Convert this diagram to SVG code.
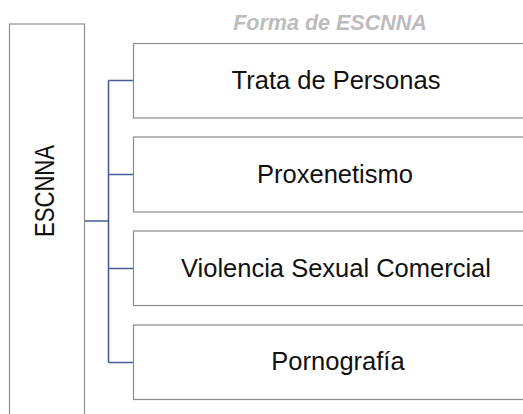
<svg xmlns="http://www.w3.org/2000/svg" width="523" height="414" viewBox="0 0 523 414">
<style>
.box{fill:#ffffff;stroke:#8c8c8c;stroke-width:1.2}
.lbl{font-family:"Liberation Sans",Arial,sans-serif;font-size:25.5px;fill:#111111;text-anchor:middle}
.big{font-family:"Liberation Sans",Arial,sans-serif;font-size:28px;fill:#111111;text-anchor:middle}
.conn{fill:none;stroke:#4a5c9c;stroke-width:1.6}
.title{font-family:"Liberation Sans",Arial,sans-serif;font-size:21.5px;font-weight:bold;font-style:italic;fill:#bcbcbc;text-anchor:middle}
</style>
<rect width="523" height="414" fill="#ffffff"/>
<text class="title" x="330" y="30">Forma de ESCNNA</text>
<g id="connectors">
<path class="conn" d="M84 221H108.5M108.5 80.5V362.5M108.5 80.5H133.5M108.5 174.5H133.5M108.5 268.5H133.5M108.5 362.5H133.5"/>
</g>
<g id="escnna">
<rect class="box" x="9.5" y="24" width="75" height="400"/>
<text class="big" transform="translate(53.5,191) rotate(-90) scale(0.79,1)" x="0" y="0">ESCNNA</text>
</g>
<g id="trata">
<rect class="box" x="133.5" y="43.5" width="405" height="74.5"/>
<text class="lbl" x="336" y="88.5">Trata de Personas</text>
</g>
<g id="proxenetismo">
<rect class="box" x="133.5" y="137" width="405" height="75"/>
<text class="lbl" x="335" y="182.5">Proxenetismo</text>
</g>
<g id="violencia">
<rect class="box" x="133.5" y="231" width="405" height="74.5"/>
<text class="lbl" x="336" y="276.5">Violencia Sexual Comercial</text>
</g>
<g id="pornografia">
<rect class="box" x="133.5" y="325" width="405" height="74.5"/>
<text class="lbl" x="338" y="370">Pornografía</text>
</g>
</svg>
